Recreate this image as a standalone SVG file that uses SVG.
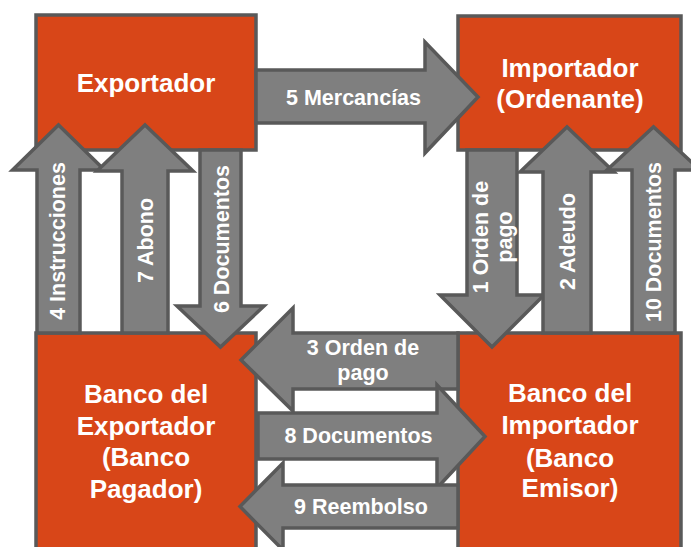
<svg xmlns="http://www.w3.org/2000/svg" width="691" height="547" viewBox="0 0 691 547">
<style>
.box{fill:#D84618;stroke:#595959;stroke-width:3.5}
.arr{fill:#7F7F7F;stroke:#595959;stroke-width:3.5;stroke-linejoin:miter}
.t{font-family:"Liberation Sans",Arial,sans-serif;font-weight:bold;fill:#FFFFFF;text-anchor:middle}
.n{font-size:26px}
.l{font-size:21.5px}
</style>
<rect width="691" height="547" fill="#FFFFFF"/>
<g id="exportador">
<rect class="box" x="36" y="15" width="220" height="135"/>
<text class="t n" x="146" y="92">Exportador</text>
</g>
<g id="importador">
<rect class="box" x="458" y="16" width="223" height="134"/>
<text class="t n" x="570" y="77">Importador</text>
<text class="t n" x="570" y="108">(Ordenante)</text>
</g>
<g id="banco-exportador">
<rect class="box" x="36" y="333" width="220" height="230"/>
<text class="t n" x="146" y="403">Banco del</text>
<text class="t n" x="146" y="434.5">Exportador</text>
<text class="t n" x="146" y="466">(Banco</text>
<text class="t n" x="146" y="497.5">Pagador)</text>
</g>
<g id="banco-importador">
<rect class="box" x="458" y="333" width="223" height="230"/>
<text class="t n" x="570" y="402">Banco del</text>
<text class="t n" x="570" y="434">Importador</text>
<text class="t n" x="570" y="466.5">(Banco</text>
<text class="t n" x="570" y="497">Emisor)</text>
</g>
<g id="connectors">
<g id="a1">
<path class="arr" d="M467,150 V295 H440 L492,347 L544,295 H517 V150 Z"/>
<text class="t l" transform="translate(487.5,237) rotate(-90)">1 Orden de</text>
<text class="t l" transform="translate(512,237) rotate(-90)">pago</text>
</g>
<g id="a2">
<path class="arr" d="M543,333 V172 H520 L567,127 L614,172 H591 V333 Z"/>
<text class="t l" transform="translate(575,241.5) rotate(-90)">2 Adeudo</text>
</g>
<g id="a3">
<path class="arr" d="M458,333 H293 V308 L241,360 L293,411 V389 H458 Z"/>
<text class="t l" x="363" y="355">3 Orden de</text>
<text class="t l" x="363" y="380">pago</text>
</g>
<g id="a4">
<path class="arr" d="M37,333 V170 H12.5 L58.5,125 L104.5,170 H80 V333 Z"/>
<text class="t l" transform="translate(64.5,241) rotate(-90)">4 Instrucciones</text>
</g>
<g id="a5">
<path class="arr" d="M256,70 H425 V42 L478,97 L425,153 V123 H256 Z"/>
<text class="t l" x="353.5" y="105">5 Mercancías</text>
</g>
<g id="a6">
<path class="arr" d="M200,150 V306 H177 L220.5,347 L264,306 H241 V150 Z"/>
<text class="t l" transform="translate(228.5,239) rotate(-90)">6 Documentos</text>
</g>
<g id="a7">
<path class="arr" d="M122,333 V171 H97 L145,125 L193,171 H168 V333 Z"/>
<text class="t l" transform="translate(153,240.5) rotate(-90)">7 Abono</text>
</g>
<g id="a8">
<path class="arr" d="M258,413 H437 V385 L485,436.5 L437,488 V459 H258 Z"/>
<text class="t l" x="358.5" y="443">8 Documentos</text>
</g>
<g id="a9">
<path class="arr" d="M458,485 H283 V463 L240,506.5 L283,550 V528 H458 Z"/>
<text class="t l" x="361" y="514">9 Reembolso</text>
</g>
<g id="a10">
<path class="arr" d="M632,333 V170 H607 L653.5,127 L700,170 H675 V333 Z"/>
<text class="t l" transform="translate(661,242) rotate(-90)">10 Documentos</text>
</g>
</g>
</svg>
